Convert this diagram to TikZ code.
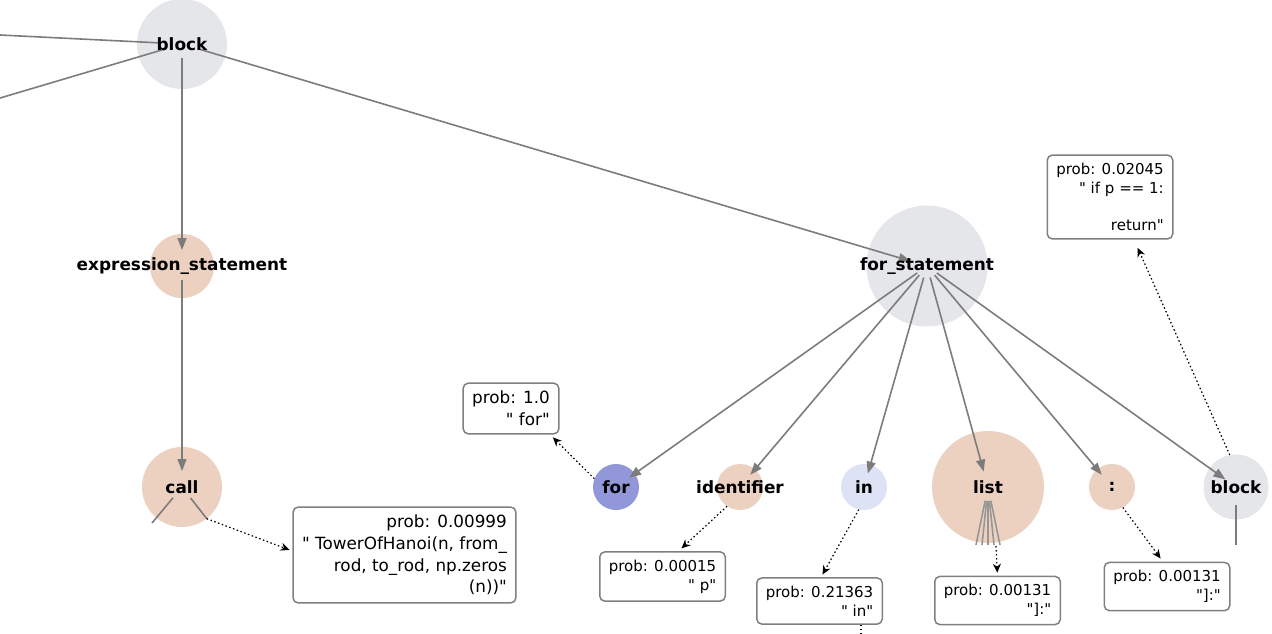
\documentclass[tikz,border=0pt]{standalone}
\usepackage{fontspec}
\setmainfont{DejaVu Sans}[Ligatures=TeXOff]
\usetikzlibrary{arrows.meta}
\definecolor{nodegray}{RGB}{229,230,234}
\definecolor{peach}{RGB}{236,208,192}
\definecolor{forblue}{RGB}{145,151,217}
\definecolor{inblue}{RGB}{221,226,245}
\definecolor{edgegray}{RGB}{124,124,124}
\definecolor{boxgray}{RGB}{128,128,128}
\tikzstyle{ast} = [circle, inner sep=0pt, draw=none]
\tikzstyle{kind} = [font=\fontsize{16.9}{20}\selectfont\bfseries, inner sep=0pt]
\tikzstyle{line} = [draw=edgegray, line width=1.6pt]
\tikzstyle{stub} = [line, shorten <=14pt]
\tikzstyle{edge} = [line, shorten <=14pt, shorten >=16pt, -{Triangle[length=12pt,width=9pt]}]
\tikzstyle{probe} = [draw=black, line width=1.2pt, dash pattern=on 1.5pt off 2.5pt, shorten >=4pt, -{Stealth[length=9pt,width=8pt]}]
\tikzstyle{prob} = [rectangle, rounded corners=5pt, draw=boxgray, line width=1.5pt, fill=white, align=right, inner xsep=9pt, inner ysep=8pt, font=\fontsize{15}{18.7}\selectfont]
\tikzstyle{bigprob} = [prob, font=\fontsize{16.8}{21.6}\selectfont]

\begin{document}
\begin{tikzpicture}[x=1pt,y=-1pt]
\useasboundingbox (0,0) rectangle (1272,633);

% tree nodes
\node (blockA) [ast, fill=nodegray, minimum size=90pt] at (182,44) {};
\node (exprst) [ast, fill=peach, minimum size=64pt] at (182,266) {};
\node (call) [ast, fill=peach, minimum size=80pt] at (182,487) {};
\node (forst) [ast, fill=nodegray, minimum size=121pt] at (927,266) {};
\node (kwfor) [ast, fill=forblue, minimum size=46pt] at (616,487) {};
\node (ident) [ast, fill=peach, minimum size=46pt] at (740,487) {};
\node (kwin) [ast, fill=inblue, minimum size=46pt] at (864,487) {};
\node (list) [ast, fill=peach, minimum size=112pt] at (988,487) {};
\node (colon) [ast, fill=peach, minimum size=46pt] at (1112,487) {};
\node (blockB) [ast, fill=nodegray, minimum size=65pt] at (1236,487) {};

% edges leaving the picture
\coordinate (leftA) at (-10,34.5);
\coordinate (leftB) at (-10,101);
\draw[line, shorten >=24pt] (leftA) -- (blockA.center);
\draw[line, shorten >=18pt] (leftB) -- (blockA.center);
\coordinate (callL) at (152,523);
\coordinate (callR) at (207,519);
\draw[stub] (call.center) -- (callL);
\draw[stub] (call.center) -- (callR);
\foreach \dx [count=\k] in {-12,-6,0,6,12} {
  \coordinate (listleg\k) at (988+\dx,545);
  \draw[stub, draw=edgegray!80] (list.center) -- (listleg\k);
}
\coordinate (blockleg) at (1236,545);
\draw[stub, shorten <=18pt] (blockB.center) -- (blockleg);

% tree edges
\draw[edge] (blockA.center) -- (exprst.center);
\draw[edge] (exprst.center) -- (call.center);
\draw[edge, shorten <=19pt, shorten >=17pt] (blockA.center) -- (forst.center);
\draw[edge, shorten <=12pt] (forst.center) -- (kwfor.center);
\draw[edge, shorten <=12pt] (forst.center) -- (ident.center);
\draw[edge, shorten <=12pt, shorten >=14pt] (forst.center) -- (kwin.center);
\draw[edge, shorten <=12pt] (forst.center) -- (list.center);
\draw[edge, shorten <=12pt] (forst.center) -- (colon.center);
\draw[edge, shorten <=12pt, shorten >=13pt] (forst.center) -- (blockB.center);

% labels
\node[kind] at (blockA) {block};
\node[kind] at (exprst) {expression\_statement};
\node[kind] at (call) {call};
\node[kind] at (forst) {for\_statement};
\node[kind] at (kwfor) {for};
\node[kind] at (ident) {identifier};
\node[kind] at (kwin) {in};
\node[kind] at (list) {list};
\node[kind] at (colon) {:};
\node[kind] at (blockB) {block};

% probability boxes
\node (callbox) [bigprob] at (404.5,555) {prob: 0.00999\\" TowerOfHanoi(n, from\_\\rod, to\_rod, np.zeros\\(n))"};
\node (forbox) [bigprob] at (511,408.5) {prob: 1.0\\" for"};
\node (identbox) [prob] at (662.5,576.5) {prob: 0.00015\\" p"};
\node (inbox) [prob] at (819.5,601) {prob: 0.21363\\" in"};
\node (listbox) [prob] at (997.5,600.5) {prob: 0.00131\\"]:"};
\node (colonbox) [prob] at (1167,586.5) {prob: 0.00131\\"]:"};
\node (blockbox) [prob] at (1110,197) {prob: 0.02045\\" if p == 1:\\[18.7pt]return"};

% dotted arrows to the boxes
\draw[probe, shorten >=3pt] (call.308) -- ([yshift=4pt]callbox.west);
\draw[probe] (kwfor.159) -- ([xshift=39pt]forbox.south);
\draw[probe] (ident.236) -- ([xshift=16pt]identbox.north);
\draw[probe, shorten >=3pt] (kwin.257) -- ([xshift=1.5pt]inbox.north);
\coordinate (listtip) at (996,546);
\draw[probe, shorten >=3pt] (listtip) -- (listbox.north);
\draw[probe] (colon.298) -- ([xshift=-4pt]colonbox.north);
\draw[probe, shorten >=9pt] (blockB.101) -- ([xshift=24pt]blockbox.south);
\coordinate (inbelow) at (861,640);
\draw[probe, -] ([xshift=41.5pt]inbox.south) -- (inbelow);
\end{tikzpicture}
\end{document}
